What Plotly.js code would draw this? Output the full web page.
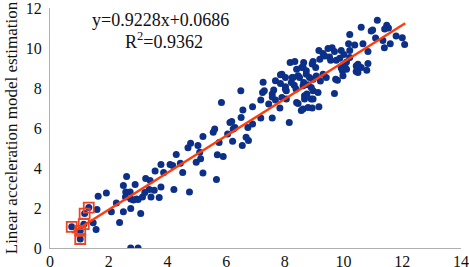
<!DOCTYPE html>
<html>
<head>
<meta charset="utf-8">
<script src="https://cdn.plot.ly/plotly-3.0.1.min.js"></script>
<style>html,body{margin:0;padding:0;background:#fff;}#chart{width:469px;height:267px;}</style>
</head>
<body>
<div id="chart"></div>
<script>
// Scatter points: measured (x) vs linear acceleration model estimation (y)
const ptsX = [
 0.74,1.03,1.03,1.15,1.18,1.32,
 1.47,1.57,1.60,1.64,1.92,2.09,2.26,2.37,2.50,2.50,2.61,2.58,2.57,2.73,2.75,2.75,2.90,2.84,2.95,3.00,3.09,3.15,3.23,3.26,3.38,3.41,3.44,3.55,3.58,3.72,3.78,3.87,3.78,4.09,2.75,3.00,
 4.18,4.22,4.30,4.44,4.52,4.70,4.75,4.79,4.98,5.04,5.10,5.13,5.21,5.21,5.56,5.61,5.67,5.70,5.76,5.84,5.90,6.05,6.13,6.19,6.22,6.24,6.30,6.51,6.50,6.55,6.57,6.68,6.74,6.76,6.90,6.90,
 7.18,7.18,7.24,7.26,7.30,7.45,7.57,7.57,7.57,7.62,7.68,7.68,7.83,7.85,7.85,7.90,7.90,8.02,8.02,8.05,8.05,8.02,8.15,8.18,8.25,8.22,8.32,8.34,8.28,8.38,8.40,8.40,8.45,8.45,8.50,8.56,8.57,8.62,8.64,8.64,8.62,8.67,8.67,8.62,8.73,8.73,8.75,8.79,8.79,8.84,8.90,8.90,8.93,8.96,8.96,8.96,8.96,8.93,
 9.05,9.07,9.13,9.16,9.16,9.19,9.21,9.30,9.30,9.36,9.41,9.47,9.52,9.56,9.61,9.69,9.69,9.73,9.75,9.79,9.87,9.92,9.92,9.96,9.97,9.98,9.98,10.01,10.10,10.10,10.05,10.17,10.21,10.21,10.21,10.38,10.43,10.43,10.49,10.49,10.60,10.60,10.66,10.79,10.83,10.83,10.94,10.99,11.09,11.15,11.34,11.39,11.47,11.53,11.40,11.59,11.79,12.00,12.08
];
const ptsY = [
 1.06,0.86,0.45,1.19,1.72,2.02,
 1.26,0.93,1.92,2.59,2.75,1.81,2.25,1.28,1.81,3.13,3.58,2.80,2.55,2.80,2.45,1.97,3.18,2.40,2.45,2.42,1.72,2.55,2.77,3.47,2.92,3.38,2.55,2.89,3.85,2.52,4.18,3.77,3.05,4.18,0,0,
 4.13,2.92,4.68,4.24,3.77,5.01,2.80,5.24,4.29,5.12,4.79,4.46,3.75,5.57,5.79,5.95,3.42,4.66,5.27,7.28,4.58,5.70,6.28,6.33,5.34,5.95,6.03,6.53,7.86,5.12,6.90,5.54,6.03,5.37,7.06,6.20,
 6.50,7.40,7.78,8.29,7.86,7.20,6.50,7.70,7.55,7.90,8.36,7.40,7.00,8.66,8.22,7.53,8.69,8.06,8.52,7.45,7.86,7.94,6.28,9.27,8.52,8.27,8.14,9.32,8.52,7.95,7.28,8.94,8.61,7.23,8.52,6.87,9.02,9.05,9.27,8.27,8.11,7.61,7.45,6.95,8.86,8.69,7.70,8.16,7.03,8.52,8.03,7.45,7.00,9.32,7.86,7.45,8.44,9.20,
 9.02,8.60,7.78,9.88,7.06,9.44,8.35,9.72,8.69,9.60,8.52,9.98,9.55,9.39,10.01,7.73,9.82,8.44,9.39,8.39,9.49,9.88,9.00,8.86,8.96,9.15,8.61,9.68,8.94,9.30,9.05,10.21,10.68,9.52,9.88,10.15,9.10,8.82,9.19,8.78,11.04,9.02,10.21,8.89,9.82,9.22,10.85,10.90,10.50,11.39,10.38,10.01,11.14,11.00,10.95,10.21,10.60,10.51,10.18
];
// Highlighted (boxed) points
const boxX = [0.74,1.03,1.03,1.15,1.18,1.32];
const boxY = [1.06,0.86,0.45,1.19,1.72,2.02];
// Fitted line y=0.9228x+0.0686 end points
const fitX = [0.75, 12.1];
const fitY = [0.761, 11.235];
const xTicks = [0,2,4,6,8,10,12,14];
const yTicks = [0,2,4,6,8,10,12];
const eqText = "y=0.9228x+0.0686";
const r2Text = "R<sup>2</sup>=0.9362";
const yTitle = "Linear acceleration model estimation";

const serif = "Liberation Serif, Times New Roman, serif";
const W = 469, H = 267, ML = 50, MR = 8, MT = 8, MB = 19;
const PW = W - ML - MR, PH = H - MT - MB;
const traces = [
  {x: ptsX, y: ptsY, type: 'scatter', mode: 'markers',
   marker: {color: '#0c2f88', size: 7}, hoverinfo: 'skip'},
  {x: boxX, y: boxY, type: 'scatter', mode: 'markers',
   marker: {symbol: 'square-open', color: '#ee4422', size: 10, line: {width: 1.8, color: '#ee4422'}}},
  {x: fitX, y: fitY, type: 'scatter', mode: 'lines',
   line: {color: '#ff3d0a', width: 2.5}}
];
const layout = {
  width: W, height: H,
  margin: {l: ML, r: MR, t: MT, b: MB},
  showlegend: false,
  paper_bgcolor: '#fff', plot_bgcolor: '#fff',
  font: {family: serif, size: 16, color: '#000'},
  xaxis: {range: [0, 14], tickvals: xTicks, ticktext: xTicks.map(String),
          showgrid: false, zeroline: false, showline: true, linecolor: '#b0b0b0', linewidth: 1,
          ticks: '', ticklabelstandoff: -1, ticklabeloverflow: 'allow',
          tickfont: {family: serif, size: 16, color: '#111'}},
  yaxis: {range: [0, 12], tickvals: yTicks, ticktext: yTicks.map(String),
          showgrid: false, zeroline: false, showline: true, linecolor: '#b0b0b0', linewidth: 1,
          ticks: '', ticklabelstandoff: 4, ticklabeloverflow: 'allow',
          tickfont: {family: serif, size: 16, color: '#111'},
          title: {text: yTitle, font: {family: serif, size: 17, color: '#111'}, standoff: 3},
          automargin: false},
  annotations: [
    {xref: 'paper', yref: 'paper', x: (90-ML)/PW, y: 1 - (20-MT)/PH, xanchor: 'left', yanchor: 'middle',
     text: eqText, showarrow: false, font: {family: serif, size: 18, color: '#111'}},
    {xref: 'paper', yref: 'paper', x: (123-ML)/PW, y: 1 - (41-MT)/PH, xanchor: 'left', yanchor: 'middle',
     text: r2Text, showarrow: false, font: {family: serif, size: 18, color: '#111'}}
  ]
};
Plotly.newPlot('chart', traces, layout, {displayModeBar: false, staticPlot: true});
</script>
</body>
</html>
